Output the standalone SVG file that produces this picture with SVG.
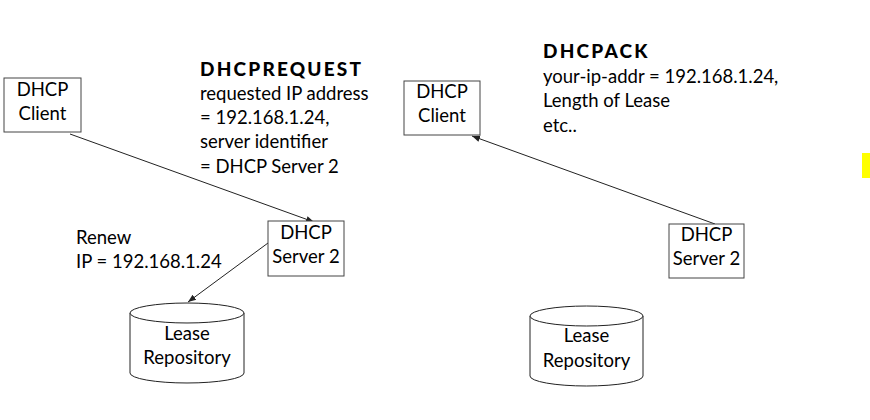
<svg xmlns="http://www.w3.org/2000/svg" width="870" height="420" viewBox="0 0 870 420">
<style>
text{font-family:Lato,"Liberation Sans",sans-serif;font-size:18.5px;fill:#000}
.b{font-weight:900;font-size:19px;letter-spacing:2.2px}
.m{text-anchor:middle}
.box{fill:#fff;stroke:#444;stroke-width:1}
.cyl{fill:#fff;stroke:#222;stroke-width:1}
.con{stroke:#222;stroke-width:1;fill:none;marker-end:url(#ah)}
</style>
<defs>
<marker id="ah" viewBox="0 0 10 10" refX="10" refY="5" markerWidth="8" markerHeight="8" markerUnits="userSpaceOnUse" orient="auto">
<path d="M0,1 L10,5 L0,9 Z" fill="#222"/>
</marker>
</defs>
<rect width="870" height="420" fill="#fff"/>
<rect x="862" y="153" width="8" height="25" fill="#ffff00"/>

<g id="connectors">
<line class="con" x1="70" y1="134" x2="314" y2="222"/>
<line class="con" x1="268" y1="243" x2="188" y2="302"/>
<line class="con" x1="715" y1="224" x2="472" y2="136"/>
</g>

<g id="client1">
<rect class="box" x="4" y="78" width="77" height="54"/>
<text class="m" x="42.5" y="96">DHCP</text>
<text class="m" x="42.5" y="120">Client</text>
</g>
<g id="server1">
<rect class="box" x="268" y="221" width="76" height="55"/>
<text class="m" x="306" y="239">DHCP</text>
<text class="m" x="306" y="263">Server 2</text>
</g>
<g id="repo1">
<path class="cyl" d="M130,313 A57,10 0 0 1 244,313 L244,373 A57,10 0 0 1 130,373 Z"/>
<path class="cyl" d="M130,313 A57,10 0 0 0 244,313" fill="none"/>
<text class="m" x="187" y="340">Lease</text>
<text class="m" x="187" y="364">Repository</text>
</g>
<g id="label-request">
<text class="b" x="200" y="76">DHCPREQUEST</text>
<text x="200" y="100">requested IP address</text>
<text x="200" y="124">= 192.168.1.24,</text>
<text x="200" y="148">server identifier</text>
<text x="200" y="173">= DHCP Server 2</text>
</g>
<g id="label-renew">
<text x="76" y="244">Renew</text>
<text x="76" y="268">IP = 192.168.1.24</text>
</g>

<g id="client2">
<rect class="box" x="404" y="81" width="76" height="54"/>
<text class="m" x="442" y="98">DHCP</text>
<text class="m" x="442" y="122">Client</text>
</g>
<g id="server2">
<rect class="box" x="669" y="224" width="75" height="54"/>
<text class="m" x="706.5" y="241">DHCP</text>
<text class="m" x="706.5" y="265">Server 2</text>
</g>
<g id="repo2">
<path class="cyl" d="M530,316 A56.5,10 0 0 1 643,316 L643,376 A56.5,10 0 0 1 530,376 Z"/>
<path class="cyl" d="M530,316 A56.5,10 0 0 0 643,316" fill="none"/>
<text class="m" x="586.5" y="342">Lease</text>
<text class="m" x="586.5" y="367">Repository</text>
</g>
<g id="label-ack">
<text class="b" x="543" y="58">DHCPACK</text>
<text x="543" y="83">your-ip-addr = 192.168.1.24,</text>
<text x="543" y="107">Length of Lease</text>
<text x="543" y="132">etc..</text>
</g>
</svg>
